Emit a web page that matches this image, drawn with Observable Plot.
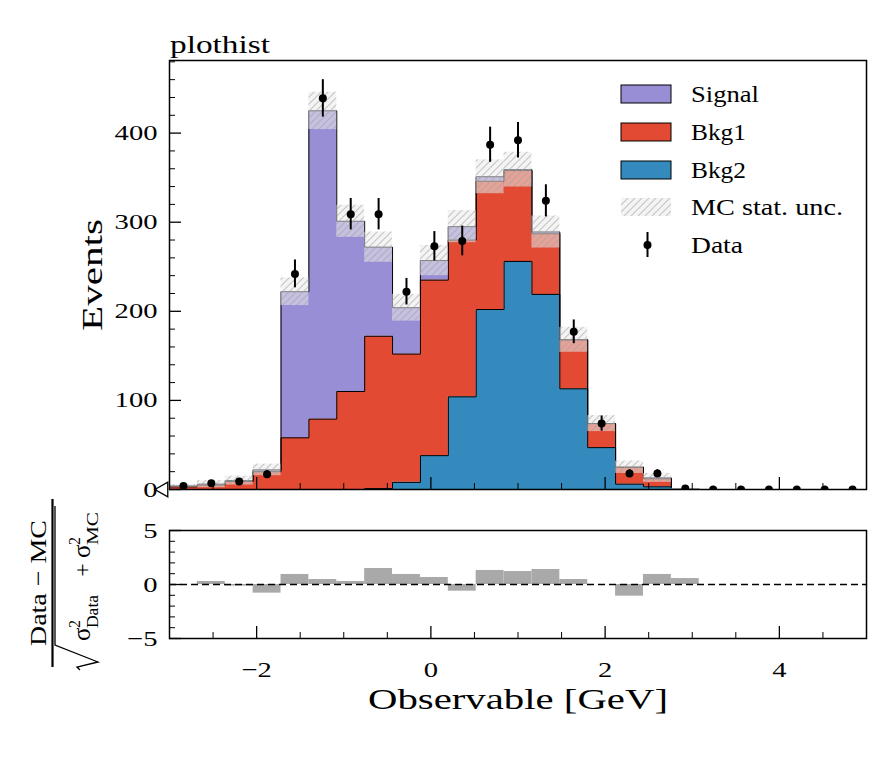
<!DOCTYPE html>
<html><head><meta charset="utf-8">
<script src="https://cdn.jsdelivr.net/npm/d3@7"></script>
<script src="https://cdn.jsdelivr.net/npm/@observablehq/plot@0.6"></script>
<style>
html,body{margin:0;padding:0;background:#fff;}
#wrap{position:relative;width:896px;height:768px;overflow:hidden;font-family:"Liberation Serif",serif;background:#fff;}
#wrap > svg{position:absolute;left:0;}
</style></head><body>
<svg width="0" height="0" style="position:absolute;left:0;top:0">
<defs><pattern id="mchatch" patternUnits="userSpaceOnUse" width="7" height="7">
<rect width="7" height="7" fill="rgb(235,235,235)" fill-opacity="0.55"/>
<path d="M-1,1 l2,-2 M0,7 l7,-7 M6,8 l2,-2" stroke="rgb(160,160,160)" stroke-opacity="0.55" stroke-width="1.2"/>
</pattern></defs></svg>
<div id="wrap"></div>
<script>
// ---------------- data ----------------
const binEdges = [-3, -2.68, -2.36, -2.04, -1.72, -1.40, -1.08, -0.76, -0.44, -0.12, 0.20, 0.52, 0.84,
  1.16, 1.48, 1.80, 2.12, 2.44, 2.76, 3.08, 3.40, 3.72, 4.04, 4.36, 4.68, 5.00];
const bkg2Values   = [0, 0, 0, 0, 0, 0, 0, 1, 8, 38, 104, 202, 256, 219, 113, 47, 6, 3, 0.2, 0, 0, 0, 0, 0, 0];
const bkg1Values   = [3, 5, 9, 20, 58, 79, 110, 171, 144, 197, 176, 144, 102, 68, 55, 27, 19, 9, 0.1, 0, 0, 0, 0, 0, 0];
const signalValues = [1, 1, 1, 2, 164, 346, 191, 100, 52, 22, 15, 5, 1, 2, 0, 0, 0, 1, 0, 0, 0, 0, 0, 0, 0];
const dataValues   = [4, 7, 9, 17, 242, 439, 309, 309, 222, 273, 279, 387, 392, 324, 177, 74, 18, 18, 1, 0, 0, 0, 0, 0, 0];
const dataErrors   = [2, 2.6, 3, 4.1, 15.6, 21, 17.6, 17.6, 14.9, 16.5, 16.7, 19.7, 19.8, 18, 13.3, 8.6, 4.2, 4.2, 1, 0, 0, 0, 0, 0, 0];
const mcStatErrors = [1.5, 4, 5, 6.5, 15.5, 21, 18, 17, 15, 17, 18, 19, 19.5, 18, 14, 9, 7, 5, 1, 0, 0, 0, 0, 0, 0];
const pullValues   = [0, 0.28, -0.15, -0.8, 0.93, 0.46, 0.28, 1.48, 0.93, 0.65, -0.62, 1.3, 1.2, 1.39, 0.46, 0, -1.08, 0.93, 0.55, 0, 0, 0, 0, 0, 0];

const seriesNames  = ["Signal", "Bkg1", "Bkg2"];
const seriesColors = ["#988ED5", "#E24A33", "#348ABD"];
const legendLabels = ["Signal", "Bkg1", "Bkg2", "MC stat. unc.", "Data"];

const xMajorTicks = [-2, 0, 2, 4];
const yMajorTicks = [0, 100, 200, 300, 400];
const ratioMajorTicks = [-5, 0, 5];
const titleText = "plothist";
const xLabelText = "Observable [GeV]";
const yLabelText = "Events";

// ---------------- derived tables ----------------
const nb = bkg2Values.length;
const bins = d3.range(nb).map(i => {
  const c1 = bkg2Values[i], c2 = c1 + bkg1Values[i], c3 = c2 + signalValues[i];
  return {x1: binEdges[i], x2: binEdges[i + 1], xc: (binEdges[i] + binEdges[i + 1]) / 2,
    c1, c2, c3, data: dataValues[i], derr: dataErrors[i], mc: mcStatErrors[i], pull: pullValues[i]};
});
const steps = binEdges.map((e, i) => {
  const b = bins[Math.min(i, nb - 1)];
  return {x: e, c1: b.c1, c2: b.c2, c3: b.c3};
});
const xMinor = d3.range(-3, 5.001, 0.5).filter(v => !xMajorTicks.includes(v));
const yMinor = d3.range(20, 481, 20).filter(v => !yMajorTicks.includes(v));
const rMinor = d3.range(-4, 5, 1).filter(v => v !== 0);

const W = 896, ML = 169, MR = 30;
const FW = W - ML - MR;
const MAIN_H = 500, MAIN_T = 60, MAIN_B = 11, MAIN_FH = MAIN_H - MAIN_T - MAIN_B;
const R_H = 268, R_T = 30, R_B = 130, R_FH = R_H - R_T - R_B;
const font = {fontFamily: "Liberation Serif, serif", fontSize: "22px", background: "transparent", overflow: "visible"};

const mainPlot = Plot.plot({
  width: W, height: MAIN_H, marginLeft: ML, marginRight: MR, marginTop: MAIN_T, marginBottom: MAIN_B,
  style: font,
  x: {domain: [-3, 5], axis: null},
  y: {domain: [0, 481.5]},
  marks: [
    Plot.areaY(steps, {x: "x", y1: 0, y2: "c1", curve: "step-after", fill: seriesColors[2]}),
    Plot.areaY(steps, {x: "x", y1: "c1", y2: "c2", curve: "step-after", fill: seriesColors[1]}),
    Plot.areaY(steps, {x: "x", y1: "c2", y2: "c3", curve: "step-after", fill: seriesColors[0]}),
    Plot.lineY(steps, {x: "x", y: "c1", curve: "step-after", stroke: "black", strokeWidth: 1}),
    Plot.lineY(steps, {x: "x", y: "c2", curve: "step-after", stroke: "black", strokeWidth: 1}),
    Plot.lineY(steps, {x: "x", y: "c3", curve: "step-after", stroke: "black", strokeWidth: 1}),
    Plot.rect(bins.filter(d => d.mc > 0), {x1: "x1", x2: "x2", y1: d => d.c3 - d.mc, y2: d => d.c3 + d.mc, fill: "url(#mchatch)", clip: true}),
    Plot.ruleX(bins.filter(d => d.derr > 0), {x: "xc", y1: d => d.data - d.derr, y2: d => d.data + d.derr, stroke: "black", strokeWidth: 2, clip: true}),
    Plot.dot(bins, {x: "xc", y: "data", r: 4, fill: "black", clip: true}),
    Plot.dot([{x: binEdges[0], y: 0}], {x: "x", y: "y", symbol: "triangle", rotate: -90, r: 5.5, dx: -6, fill: "white", stroke: "black", strokeWidth: 1.3}),
    Plot.tickY(yMinor, {y: d => d, insetRight: FW - 6, stroke: "black", strokeWidth: 1}),
    Plot.tickY(yMajorTicks, {y: d => d, insetRight: FW - 12, stroke: "black", strokeWidth: 1.3}),
    Plot.tickX(xMinor, {x: d => d, insetTop: MAIN_FH - 6, stroke: "black", strokeWidth: 1}),
    Plot.tickX(xMajorTicks, {x: d => d, insetTop: MAIN_FH - 12, stroke: "black", strokeWidth: 1.3}),
    Plot.axisY(yMajorTicks, {tickSize: 0, tickPadding: 12, label: null, fontSize: 22}),
    Plot.frame({stroke: "black", strokeWidth: 1.5})
  ]
});

const ratioPlot = Plot.plot({
  width: W, height: R_H, marginLeft: ML, marginRight: MR, marginTop: R_T, marginBottom: R_B,
  style: font,
  x: {domain: [-3, 5]},
  y: {domain: [-5, 5]},
  marks: [
    Plot.rect(bins, {x1: "x1", x2: "x2", y1: 0, y2: "pull", fill: "#a9a9a9"}),
    Plot.ruleY([0], {stroke: "black", strokeWidth: 1.4, strokeDasharray: "7,4"}),
    Plot.tickY(rMinor, {y: d => d, insetRight: FW - 6, stroke: "black", strokeWidth: 1}),
    Plot.tickY(ratioMajorTicks, {y: d => d, insetRight: FW - 12, stroke: "black", strokeWidth: 1.3}),
    Plot.tickX(xMinor, {x: d => d, insetTop: R_FH - 6, stroke: "black", strokeWidth: 1}),
    Plot.tickX(xMajorTicks, {x: d => d, insetTop: R_FH - 12, stroke: "black", strokeWidth: 1.3}),
    Plot.axisX(xMajorTicks, {tickSize: 0, tickPadding: 23, label: null, fontSize: 22}),
    Plot.axisY(ratioMajorTicks, {tickSize: 0, tickPadding: 12, label: null, fontSize: 22}),
    Plot.frame({stroke: "black", strokeWidth: 1.5})
  ]
});

const wrap = document.getElementById("wrap");
mainPlot.style.top = "0px";
ratioPlot.style.top = "500px";
wrap.appendChild(mainPlot);
wrap.appendChild(ratioPlot);

// ---------------- overlay: titles, labels, legend ----------------
const ov = d3.select(wrap).append("svg").attr("width", W).attr("height", 768)
  .style("top", "0px").style("pointer-events", "none")
  .attr("font-family", "Liberation Serif, serif");

function stretchTo(el, target) {
  el.setAttribute("textLength", target);
  el.setAttribute("lengthAdjust", "spacingAndGlyphs");
}
function stretchBy(el, k) {
  const L = el.getComputedTextLength();
  if (L > 0) stretchTo(el, L * k);
}

const t1 = ov.append("text").attr("x", 170).attr("y", 53).attr("font-size", 25).text(titleText);
stretchTo(t1.node(), 100);

const t2 = ov.append("text").attr("transform", "translate(102,275) rotate(-90)")
  .attr("text-anchor", "middle").attr("font-size", 29).text(yLabelText);
stretchTo(t2.node(), 112);

const t3 = ov.append("text").attr("x", 518).attr("y", 709)
  .attr("text-anchor", "middle").attr("font-size", 29).text(xLabelText);
stretchTo(t3.node(), 300);

// ratio y label: (Data − MC) / sqrt(σ²_Data + σ²_MC)
const g = ov.append("g").attr("transform", "translate(0,583) rotate(-90)");
const num = g.append("text").attr("x", 0).attr("y", 46).attr("text-anchor", "middle").attr("font-size", 24).text("Data − MC");
stretchTo(num.node(), 126);
g.append("line").attr("x1", -84).attr("x2", 84).attr("y1", 52.5).attr("y2", 52.5).attr("stroke", "black").attr("stroke-width", 2.2);
g.append("path").attr("d", "M-87,80 L-84,77 L-79,98 L-62,55 L77,55").attr("fill", "none").attr("stroke", "black").attr("stroke-width", 1.3);
g.append("text").attr("x", -58).attr("y", 90).attr("font-size", 25).text("σ");
g.append("text").attr("x", -45).attr("y", 80).attr("font-size", 16).text("2");
const sd = g.append("text").attr("x", -45).attr("y", 98).attr("font-size", 16).text("Data");
stretchTo(sd.node(), 33);
g.append("text").attr("x", 13).attr("y", 90).attr("text-anchor", "middle").attr("font-size", 24).text("+");
g.append("text").attr("x", 25).attr("y", 90).attr("font-size", 25).text("σ");
g.append("text").attr("x", 38).attr("y", 80).attr("font-size", 16).text("2");
const smc = g.append("text").attr("x", 38).attr("y", 98).attr("font-size", 16).text("MC");
stretchTo(smc.node(), 33);

// legend
const legY = [94, 132, 170, 207, 245];
const legW = [68, 55, 55, 152, 52];
seriesNames.forEach((name, i) => {
  ov.append("rect").attr("x", 621).attr("y", legY[i] - 9).attr("width", 50).attr("height", 18)
    .attr("fill", seriesColors[i]).attr("stroke", "black").attr("stroke-width", 1);
});
ov.append("rect").attr("x", 621).attr("y", legY[3] - 9).attr("width", 50).attr("height", 18).attr("fill", "url(#mchatch)");
ov.append("line").attr("x1", 647.5).attr("x2", 647.5).attr("y1", legY[4] - 13).attr("y2", legY[4] + 12).attr("stroke", "black").attr("stroke-width", 2);
ov.append("circle").attr("cx", 647.5).attr("cy", legY[4]).attr("r", 4).attr("fill", "black");
legendLabels.forEach((lab, i) => {
  const t = ov.append("text").attr("x", 691).attr("y", legY[i]).attr("dy", "0.34em").attr("font-size", 23).text(lab);
  stretchTo(t.node(), legW[i]);
});

// stretch the tick labels to the wide serif look of the reference
[mainPlot, ratioPlot].forEach(svg => {
  svg.querySelectorAll("text").forEach(el => stretchBy(el, 1.3));
});
</script>
</body></html>
